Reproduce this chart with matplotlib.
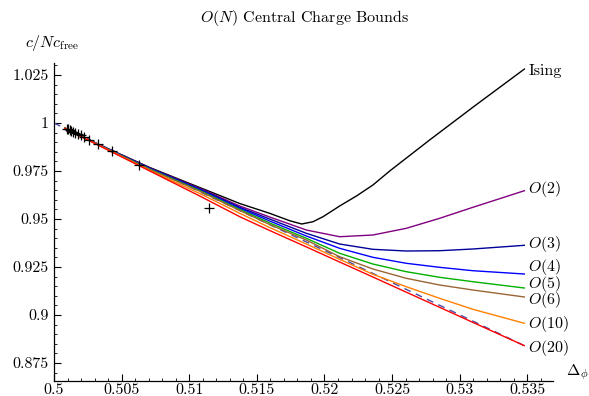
"""O(N) central charge bounds, Mathematica-like look."""
import matplotlib

matplotlib.use("Agg")
import matplotlib.pyplot as plt
from matplotlib.ticker import FixedLocator, FixedFormatter, MultipleLocator

plt.rcParams["font.family"] = ["cmr10", "DejaVu Serif"]
plt.rcParams["mathtext.fontset"] = "cm"
plt.rcParams["axes.formatter.use_mathtext"] = True

# shared Delta_phi grid of the O(N) curves
dphi = [0.50081, 0.50340, 0.50709, 0.51078, 0.51374, 0.51595, 0.51866,
        0.52112, 0.52358, 0.52605, 0.52851, 0.53097, 0.53478]

c_o2 = [0.99740, 0.98854, 0.97656, 0.96599, 0.95677, 0.95104, 0.94427,
        0.94078, 0.94167, 0.94516, 0.95036, 0.95609, 0.96474]
c_o3 = [0.99740, 0.98844, 0.97641, 0.96563, 0.95609, 0.95000, 0.94255,
        0.93698, 0.93422, 0.93333, 0.93349, 0.93438, 0.93630]
c_o4 = [0.99740, 0.98833, 0.97620, 0.96521, 0.95557, 0.94896, 0.94115,
        0.93474, 0.93005, 0.92693, 0.92484, 0.92307, 0.92135]
c_o5 = [0.99740, 0.98828, 0.97599, 0.96484, 0.95495, 0.94792, 0.93995,
        0.93214, 0.92656, 0.92255, 0.91964, 0.91734, 0.91406]
c_o6 = [0.99740, 0.98823, 0.97578, 0.96448, 0.95443, 0.94714, 0.93906,
        0.93036, 0.92396, 0.91911, 0.91563, 0.91302, 0.90938]
c_o10 = [0.99729, 0.98813, 0.97526, 0.96328, 0.95297, 0.94557, 0.93698,
         0.92901, 0.92120, 0.91474, 0.90870, 0.90297, 0.89568]
c_o20 = [0.99714, 0.98802, 0.97500, 0.96198, 0.95120, 0.94401, 0.93547,
         0.92760, 0.91979, 0.91188, 0.90401, 0.89615, 0.88401]

# Ising curve has its own grid (denser near the kink)
dphi_ising = [0.50081, 0.50340, 0.50709, 0.51078, 0.51374, 0.51595, 0.51743,
              0.51832, 0.51915, 0.51989, 0.52112, 0.52236, 0.52358, 0.52482,
              0.52777, 0.53109, 0.53478]
c_ising = [0.99740, 0.98854, 0.97682, 0.96641, 0.95807, 0.95297, 0.94911,
           0.94740, 0.94859, 0.95120, 0.95677, 0.96198, 0.96771, 0.97500,
           0.99115, 1.00885, 1.02813]

# dashed reference line
dphi_ref = [0.5, 0.52112, 0.53478]
c_ref = [1.0, 0.92990, 0.88401]

# "+" points
pts_x = [0.50096, 0.50107, 0.50118, 0.50129, 0.50140, 0.50155, 0.50174,
         0.50196, 0.50222, 0.50262, 0.50325, 0.50428, 0.50628, 0.51145]
pts_y = [0.99714, 0.99672, 0.99635, 0.99594, 0.99552, 0.99500, 0.99432,
         0.99354, 0.99260, 0.99115, 0.98896, 0.98542, 0.97813, 0.95557]

labels = ["Ising", "$O(2)$", "$O(3)$", "$O(4)$", "$O(5)$", "$O(6)$",
          "$O(10)$", "$O(20)$"]
label_y = [1.02708, 0.96563, 0.93698, 0.92500, 0.91615, 0.90781,
           0.89531, 0.88281]

xtick_vals = [0.5, 0.505, 0.51, 0.515, 0.52, 0.525, 0.53, 0.535]
xtick_text = ["0.5", "0.505", "0.51", "0.515", "0.52", "0.525", "0.53", "0.535"]
ytick_vals = [0.875, 0.9, 0.925, 0.95, 0.975, 1.0, 1.025]
ytick_text = ["0.875", "0.9", "0.925", "0.95", "0.975", "1", "1.025"]

series = [(dphi_ising, c_ising, "black"),
          (dphi, c_o2, "#800080"),
          (dphi, c_o3, "#00009a"),
          (dphi, c_o4, "#0000ff"),
          (dphi, c_o5, "#00b000"),
          (dphi, c_o6, "#996633"),
          (dphi, c_o10, "#ff8000"),
          (dphi, c_o20, "#ff0000")]

FS = 11.5

fig = plt.figure(figsize=(5.89, 3.96), dpi=100)
ax = fig.add_axes([54 / 589, 15 / 396, 499 / 589, 318 / 396])

ax.plot(dphi_ref, c_ref, color="#4a4aa8", lw=1.0, dashes=(5, 4))
for xs, ys, col in series:
    ax.plot(xs, ys, color=col, lw=1.0)
ax.plot(pts_x, pts_y, "+", color="black", ms=7, mew=0.9)

for lab, ly in zip(labels, label_y):
    ax.text(0.53508, ly, lab, fontsize=FS, va="center", ha="left")

ax.set_xlim(0.5, 0.5369)
ax.set_ylim(0.8656, 1.0313)
for side in ("top", "right"):
    ax.spines[side].set_visible(False)
for side in ("left", "bottom"):
    ax.spines[side].set_linewidth(0.9)

ax.xaxis.set_major_locator(FixedLocator(xtick_vals))
ax.xaxis.set_major_formatter(FixedFormatter(xtick_text))
ax.xaxis.set_minor_locator(MultipleLocator(0.001))
ax.yaxis.set_major_locator(FixedLocator(ytick_vals))
ax.yaxis.set_major_formatter(FixedFormatter(ytick_text))
ax.yaxis.set_minor_locator(MultipleLocator(0.005))
ax.tick_params(which="major", direction="in", length=5, width=0.8,
               labelsize=FS)
ax.tick_params(axis="x", which="major", pad=1.5)
ax.tick_params(axis="y", which="major", pad=4)
ax.tick_params(which="minor", direction="in", length=2.5, width=0.6)

fig.text(52 / 589, 1 - 43 / 396, r"$c/Nc_{\mathrm{free}}$", fontsize=FS,
         ha="center", va="center")
fig.text(577 / 589, 1 - 372 / 396, r"$\Delta_\phi$", fontsize=FS,
         ha="center", va="center")
fig.text(305 / 589, 1 - 18 / 396, r"$O(N)$ Central Charge Bounds",
         fontsize=FS, ha="center", va="center")

fig.savefig("out.png", dpi=100)
plt.close(fig)
